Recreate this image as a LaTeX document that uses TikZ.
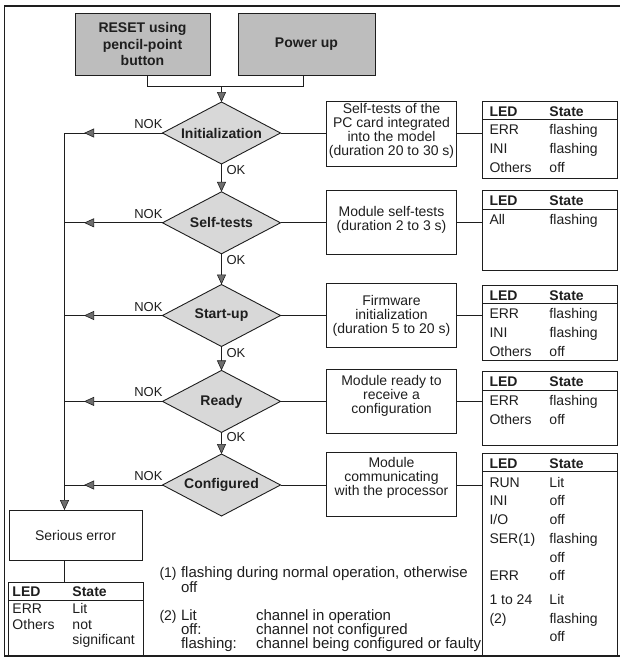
\documentclass[tikz,border=0pt]{standalone}
\usepackage{fontspec}
\setmainfont{Liberation Sans}
\usetikzlibrary{shapes.geometric,arrows.meta,decorations.markings}
\definecolor{boxgray}{HTML}{BDBDBD}
\definecolor{diagray}{HTML}{D8D8D8}
\definecolor{arrgray}{HTML}{6E6E6E}
\definecolor{ink}{HTML}{1E1E1E}
\begin{document}
\begin{tikzpicture}[x=1pt,y=-1pt,
  every node/.style={inner sep=0pt,outer sep=0pt,text=ink},
  conn/.style={draw=ink,line width=0.9pt},
  arrowend/.style={-{Triangle[length=10pt,width=9pt,fill=arrgray,line width=0.6pt]}},
  nokarrow/.style={postaction={decorate,decoration={markings,mark=at position #1 with {\arrow{Triangle[length=10pt,width=9pt,fill=arrgray,line width=0.6pt]}}}}},
  topbox/.style={draw=ink,line width=1pt,fill=boxgray,minimum width=135pt,minimum height=62pt,align=center,font=\fontsize{14}{16.5}\selectfont\bfseries},
  dec/.style={diamond,aspect=1.9,draw=ink,line width=0.9pt,fill=diagray,minimum width=118pt,minimum height=62pt,font=\fontsize{14}{16}\selectfont\bfseries},
  descbox/.style={draw=ink,line width=1pt,minimum width=130pt,minimum height=64pt},
  desctext/.style={align=center,font=\fontsize{14}{14}\selectfont},
  ledtab/.style={draw=ink,line width=1pt,anchor=north west,minimum width=135pt},
  ledtext/.style={anchor=base west,font=\fontsize{14}{18.7}\selectfont},
  lbl/.style={font=\fontsize{13}{13}\selectfont},
  note/.style={anchor=base west,font=\fontsize{15}{15}\selectfont},
  notenum/.style={anchor=base west,font=\fontsize{14}{14}\selectfont},
]
\useasboundingbox (0,0) rectangle (620,657);
% outer frame
\draw[draw=ink,line width=1.4pt] (622,6) -- (4.5,6) -- (4.5,656) -- (622,656);

% start boxes
\node[topbox] (reset) at (142.5,44) {RESET using\\pencil-point\\button};
\node[topbox,minimum width=137pt] (power) at (306.5,44) {Power up};
\coordinate (jl) at (147,86);
\coordinate (jr) at (303.5,86);
\coordinate (jm) at (221.5,86);

% decisions
\node[dec] (dInit) at (221.5,133) {Initialization};
\node[dec] (dSelf) at (221.5,222.8) {Self-tests};
\node[dec] (dStart) at (221.5,315.5) {Start-up};
\node[dec] (dReady) at (221.5,401.4) {Ready};
\node[dec] (dConf) at (221.5,485) {Configured};

\draw[conn] (reset.south -| jl) -- (jl) -- (jr) -- (power.south -| jr);
\draw[conn,arrowend] (jm) -- (dInit.north);
\draw[conn,arrowend] (dInit.south) -- (dSelf.north);
\draw[conn,arrowend] (dSelf.south) -- (dStart.north);
\draw[conn,arrowend] (dStart.south) -- (dReady.north);
\draw[conn,arrowend] (dReady.south) -- (dConf.north);

\node[lbl,anchor=north west] (oInit) at ([xshift=5pt,yshift=-1.5pt]dInit.south) {OK};
\node[lbl,anchor=north west] (oSelf) at ([xshift=5pt,yshift=-1.5pt]dSelf.south) {OK};
\node[lbl,anchor=north west] (oStart) at ([xshift=5pt,yshift=-1.5pt]dStart.south) {OK};
\node[lbl,anchor=north west] (oReady) at ([xshift=5pt,yshift=-0.5pt]dReady.south) {OK};

% descriptions
\node[descbox,minimum height=65pt] (bInit) at (391.5,133.5) {};
\node[desctext] (xInit) at (391.5,131) {Self-tests of the\\PC card integrated\\into the model\\(duration 20 to 30 s)};
\node[descbox] (bSelf) at (391.5,222.8) {};
\node[desctext] (xSelf) at (391.5,219.5) {Module self-tests\\(duration 2 to 3 s)};
\node[descbox] (bStart) at (391.5,315) {};
\node[desctext] (xStart) at (391.5,316) {Firmware\\initialization\\(duration 5 to 20 s)};
\node[descbox] (bReady) at (391.5,401) {};
\node[desctext] (xReady) at (391.5,395.5) {Module ready to\\receive a\\configuration};
\node[descbox] (bConf) at (391.5,484.7) {};
\node[desctext] (xConf) at (391.5,477.5) {Module\\communicating\\with the processor};

% LED tables
\node[ledtab,minimum height=77pt] (tInit) at (482.5,101) {};
\node[ledtab,minimum height=79.3pt] (tSelf) at (482.5,190.7) {};
\node[ledtab,minimum height=75pt] (tStart) at (482.5,285) {};
\node[ledtab,minimum height=73.3pt] (tReady) at (482.5,371.7) {};
\node[ledtab,minimum height=203pt] (tConf) at (482.5,453) {};
\foreach \t in {tInit,tSelf,tStart,tReady,tConf}{
  \draw[conn] ([yshift=-18.5pt]\t.north west) -- ([yshift=-18.5pt]\t.north east);
}
\node[ledtext] (cInit) at (489.5,116) {\begin{tabular}[t]{@{}p{60pt}@{}l@{}}\textbf{LED}&\textbf{State}\\ERR&flashing\\INI&flashing\\Others&off\end{tabular}};
\node[ledtext] (cSelf) at (489.5,205.7) {\begin{tabular}[t]{@{}p{60pt}@{}l@{}}\textbf{LED}&\textbf{State}\\All&flashing\end{tabular}};
\node[ledtext] (cStart) at (489.5,300) {\begin{tabular}[t]{@{}p{60pt}@{}l@{}}\textbf{LED}&\textbf{State}\\ERR&flashing\\INI&flashing\\Others&off\end{tabular}};
\node[ledtext] (cReady) at (489.5,386.7) {\begin{tabular}[t]{@{}p{60pt}@{}l@{}}\textbf{LED}&\textbf{State}\\ERR&flashing\\Others&off\end{tabular}};
\node[ledtext] (cConf) at (489.5,468.5) {\begin{tabular}[t]{@{}p{60pt}@{}l@{}}\textbf{LED}&\textbf{State}\\RUN&Lit\\INI&off\\I/O&off\\SER(1)&flashing\\&off\\ERR&off\\[5pt]1 to 24&Lit\\(2)&flashing\\&off\end{tabular}};

% horizontal connectors
\foreach \d/\b/\t in {dInit/bInit/tInit,dSelf/bSelf/tSelf,dStart/bStart/tStart,dReady/bReady/tReady,dConf/bConf/tConf}{
  \draw[conn] (\d.east) -- (\d.east -| \b.west);
  \draw[conn] (\d.east -| \b.east) -- (\d.east -| \t.west);
}

% NOK branches
\coordinate (busx) at (64.5,0);
\coordinate (nInit) at (dInit.west -| busx);
\coordinate (nSelf) at (dSelf.west -| busx);
\coordinate (nStart) at (dStart.west -| busx);
\coordinate (nReady) at (dReady.west -| busx);
\coordinate (nConf) at (dConf.west -| busx);
\foreach \d/\n in {dInit/nInit,dSelf/nSelf,dStart/nStart,dReady/nReady,dConf/nConf}{
  \draw[conn,nokarrow=0.8] (\d.west) -- (\n);
  \node[lbl,anchor=base east] (k\d) at ([yshift=4.5pt]\d.west) {NOK};
}

% serious error
\node[descbox,minimum width=133pt,minimum height=50.5pt,font=\fontsize{14}{14}\selectfont] (serr) at (75.5,535.3) {Serious error};
\draw[conn,arrowend] (nInit) -- (nInit |- serr.north);
\node[ledtab,minimum width=134.5pt,minimum height=74pt] (tErr) at (8.5,582) {};
\draw[conn] (serr.south -| busx) -- (tErr.north -| busx);
\draw[conn] ([yshift=-18pt]tErr.north west) -- ([yshift=-18pt]tErr.north east);
\node[ledtext,font=\fontsize{14}{15.5}\selectfont] (cErr) at (12.5,596.5) {\begin{tabular}[t]{@{}p{60pt}@{}l@{}}\textbf{LED}&\textbf{State}\\[1.5pt]ERR&Lit\\Others&not\\&significant\end{tabular}};

% footnotes
\node[notenum] (f1a) at (159.5,577) {(1)};
\node[note] (f1b) at (181,577) {flashing during normal operation, otherwise};
\node[note] (f1c) at (181,592) {off};
\node[notenum] (f2a) at (159.5,620.5) {(2)};
\node[note] (f2b) at (181,620.5) {Lit};
\node[note] (f2c) at (181,634.5) {off:};
\node[note] (f2d) at (181,648.5) {flashing:};
\node[note] (f2e) at (256,620.5) {channel in operation};
\node[note] (f2f) at (256,634.5) {channel not configured};
\node[note] (f2g) at (256,648.5) {channel being configured or faulty};
\end{tikzpicture}
\end{document}
